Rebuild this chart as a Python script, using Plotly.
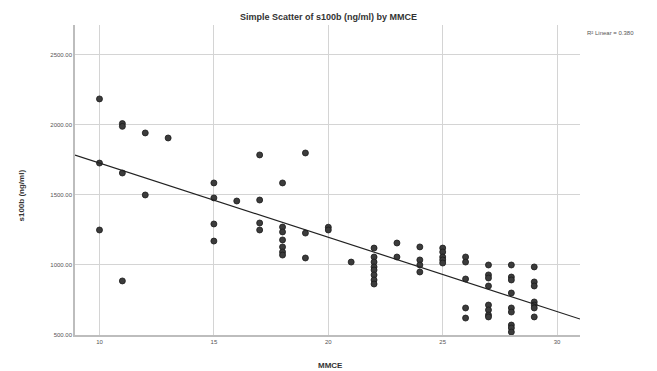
import numpy as np
import plotly.graph_objects as go

# MMCE scores (x) and s100b (ng/ml) values (y)
mmce = [10, 10, 10,
        11, 11, 11, 11,
        12, 12,
        13,
        15, 15, 15, 15,
        16,
        17, 17, 17, 17,
        18, 18, 18, 18, 18, 18, 18,
        19, 19, 19,
        20, 20,
        21,
        22, 22, 22, 22, 22, 22, 22, 22,
        23, 23,
        24, 24, 24, 24,
        25, 25, 25, 25, 25,
        26, 26, 26, 26, 26,
        27, 27, 27, 27, 27, 27, 27, 27,
        28, 28, 28, 28, 28, 28, 28, 28, 28,
        29, 29, 29, 29, 29, 29, 29]
s100b = [2186, 1728, 1250,
         2010, 1990, 1657, 886,
         1943, 1500,
         1907,
         1586, 1479, 1293, 1171,
         1457,
         1786, 1464, 1300, 1250,
         1586, 1271, 1236, 1179, 1129, 1093, 1071,
         1800, 1228, 1050,
         1270, 1250,
         1021,
         1121, 1057, 1021, 986, 964, 929, 893, 864,
         1157, 1057,
         1129, 1036, 1000, 950,
         1121, 1093, 1057, 1036, 1014,
         1057, 1021, 900, 693, 621,
         1000, 929, 907, 850, 714, 679, 643, 629,
         1000, 914, 893, 800, 693, 664, 571, 550, 521,
         986, 879, 850, 736, 714, 693, 629]

x_ticks = [10, 15, 20, 25, 30]
y_ticks = [500, 1000, 1500, 2000, 2500]
title_text = "Simple Scatter of s100b (ng/ml) by MMCE"
x_title = "MMCE"
y_title = "s100b (ng/ml)"
r2_text = "R\u00b2 Linear = 0.380"

x_range = [8.93, 31.0]
y_range = [500, 2714]

slope, intercept = np.polyfit(mmce, s100b, 1)
fit_x = np.array(x_range)
fit_y = slope * fit_x + intercept

fig = go.Figure()
fig.add_trace(go.Scatter(
    x=mmce, y=s100b, mode="markers",
    marker=dict(size=6, color="#3c3c3c", line=dict(color="#1a1a1a", width=0.8)),
    showlegend=False, cliponaxis=False))
fig.add_trace(go.Scatter(
    x=fit_x, y=fit_y, mode="lines",
    line=dict(color="#222222", width=1.2), showlegend=False))

font_family = "Liberation Sans, Arial, sans-serif"
fig.update_layout(
    width=657, height=371,
    margin=dict(l=75, r=77, t=25, b=36, autoexpand=False),
    paper_bgcolor="white", plot_bgcolor="white",
    font=dict(family=font_family, color="#222222", size=7),
    title=dict(text="<b>" + title_text + "</b>", x=0.5, xanchor="center",
               y=0.955, yanchor="middle", font=dict(size=9, color="#333333")),
    xaxis=dict(range=x_range, tickvals=x_ticks, ticktext=[str(v) for v in x_ticks],
               showgrid=True, gridcolor="#d4d4d4", gridwidth=1,
               showline=True, linecolor="#bdbdbd", linewidth=1.5, zeroline=False,
               ticks="", tickfont=dict(size=6, color="#555555"), automargin=False),
    yaxis=dict(range=y_range, tickvals=y_ticks, tickformat=".2f",
               showgrid=True, gridcolor="#d4d4d4", gridwidth=1,
               showline=True, linecolor="#bdbdbd", linewidth=1.5, zeroline=False,
               ticks="", tickfont=dict(size=6, color="#555555"), automargin=False),
    annotations=[
        dict(text=r2_text, xref="paper", yref="paper", x=1.01, y=0.975,
             xanchor="left", yanchor="middle", showarrow=False,
             font=dict(size=6, color="#555555")),
        dict(text="<b>" + x_title + "</b>", xref="paper", yref="paper", x=0.505, y=-0.097,
             xanchor="center", yanchor="middle", showarrow=False,
             font=dict(size=8, color="#333333")),
        dict(text="<b>" + y_title + "</b>", xref="paper", yref="paper", x=-0.105, y=0.45,
             xanchor="center", yanchor="middle", textangle=-90, showarrow=False,
             font=dict(size=8, color="#333333")),
    ],
)

fig.write_html("out.html")
